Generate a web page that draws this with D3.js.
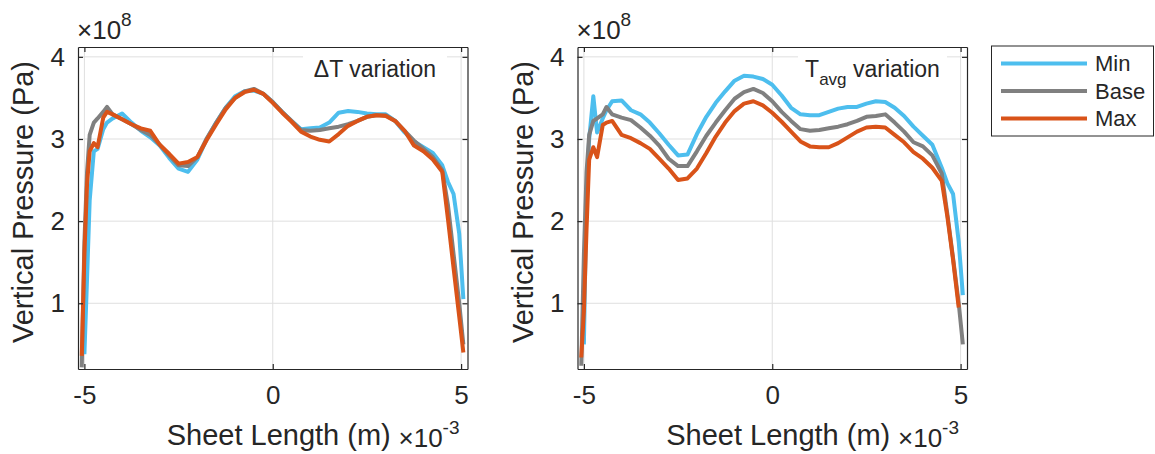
<!DOCTYPE html>
<html>
<head>
<meta charset="utf-8">
<script src="https://cdn.jsdelivr.net/npm/d3@7"></script>
<style>
  body { margin: 0; background: #fff; }
  text { font-family: "Liberation Sans", Arial, sans-serif; fill: #262626; }
</style>
</head>
<body>
<script>
// sheet position (x 1e-3 m), shared by all curves
const xs = [-5.07, -5.0, -4.93, -4.86, -4.75, -4.65, -4.5, -4.4, -4.25, -4.0, -3.75, -3.5, -3.25, -3.0,
  -2.75, -2.5, -2.25, -2.0, -1.75, -1.5, -1.25, -1.0, -0.75, -0.5, -0.25, 0, 0.25, 0.5, 0.75, 1.0,
  1.25, 1.5, 1.75, 2.0, 2.25, 2.5, 2.75, 3.0, 3.25, 3.5, 3.75, 4.0, 4.25, 4.5, 4.65, 4.8, 4.95, 5.06];

// vertical pressure (x 1e8 Pa) - delta T variation
const dtMin = [null, 0.38, 1.3, 2.25, 2.85, 2.88, 3.12, 3.2, 3.25, 3.31, 3.2, 3.1, 3.02, 2.92, 2.77, 2.64,
  2.6, 2.75, 3.0, 3.2, 3.38, 3.52, 3.58, 3.59, 3.55, 3.45, 3.33, 3.22, 3.12, 3.13, 3.14, 3.2, 3.32, 3.34,
  3.33, 3.31, 3.30, 3.30, 3.22, 3.08, 2.97, 2.9, 2.83, 2.68, 2.48, 2.33, 1.85, 1.05];
const dtBase = [0.22, 1.75, 2.6, 3.05, 3.2, 3.25, 3.33, 3.39, 3.30, 3.24, 3.18, 3.11, 3.05, 2.93, 2.80, 2.68,
  2.67, 2.78, 3.01, 3.2, 3.38, 3.5, 3.58, 3.61, 3.55, 3.45, 3.33, 3.22, 3.11, 3.10, 3.11, 3.13, 3.15, 3.18,
  3.22, 3.27, 3.29, 3.29, 3.22, 3.10, 2.98, 2.88, 2.78, 2.62, 2.2, 1.6, 1.0, 0.5];
const dtMax = [0.36, 1.6, 2.45, 2.85, 2.95, 2.90, 3.26, 3.33, 3.30, 3.24, 3.18, 3.13, 3.10, 2.93, 2.82, 2.70,
  2.72, 2.78, 2.99, 3.18, 3.36, 3.5, 3.57, 3.60, 3.55, 3.44, 3.32, 3.21, 3.09, 3.03, 2.99, 2.97, 3.06, 3.16,
  3.22, 3.27, 3.29, 3.28, 3.22, 3.10, 2.92, 2.85, 2.75, 2.60, 2.03, 1.43, 0.84, 0.40];

// vertical pressure (x 1e8 Pa) - T avg variation
const tavgMin = [null, 0.5, 2.35, 3.0, 3.52, 3.08, 3.25, 3.35, 3.46, 3.47, 3.35, 3.30, 3.20, 3.07, 2.93, 2.80,
  2.81, 3.06, 3.27, 3.44, 3.58, 3.71, 3.77, 3.76, 3.73, 3.66, 3.53, 3.38, 3.30, 3.29, 3.29, 3.33, 3.37, 3.39,
  3.39, 3.43, 3.46, 3.45, 3.38, 3.28, 3.15, 3.04, 2.93, 2.65, 2.46, 2.33, 1.75, 1.1];
const tavgBase = [0.24, 1.6, 2.6, 3.05, 3.22, 3.25, 3.30, 3.39, 3.30, 3.26, 3.23, 3.14, 3.04, 2.92, 2.76, 2.67,
  2.67, 2.85, 3.04, 3.2, 3.35, 3.49, 3.57, 3.61, 3.56, 3.46, 3.33, 3.22, 3.12, 3.10, 3.11, 3.13, 3.15, 3.18,
  3.22, 3.27, 3.28, 3.30, 3.20, 3.09, 2.96, 2.91, 2.80, 2.58, 2.08, 1.55, 1.0, 0.5];
const tavgMax = [0.34, 0.9, 1.9, 2.75, 2.9, 2.78, 3.17, 3.2, 3.22, 3.05, 3.01, 2.95, 2.88, 2.76, 2.64, 2.50,
  2.52, 2.64, 2.83, 3.03, 3.2, 3.34, 3.43, 3.46, 3.41, 3.32, 3.21, 3.09, 2.97, 2.91, 2.90, 2.90, 2.95, 3.02,
  3.09, 3.14, 3.15, 3.14, 3.05, 2.96, 2.84, 2.76, 2.65, 2.49, 2.05, 1.53, 0.95, null];

const seriesNames = ["Min", "Base", "Max"];
const colors = ["#4DBEEE", "#808080", "#D95319"];
const xTicks = [-5, 0, 5];
const yTicks = [1, 2, 3, 4];

const svg = d3.select("body").append("svg")
    .attr("width", 1155)
    .attr("height", 454);

const plotTop = 47, plotH = 322, plotW = 389.5;

const panels = [
    {left: 78, data: [dtMin, dtBase, dtMax], note: "dt", box: [303, 447]},
    {left: 577.5, data: [tavgMin, tavgBase, tavgMax], note: "tavg", box: [798, 947]}
];

panels.forEach((p, pi) => {
    const x = d3.scaleLinear().domain([-5.17, 5.17]).range([p.left, p.left + plotW]);
    const y = d3.scaleLinear().domain([0.2, 4.12]).range([plotTop + plotH, plotTop]);
    const g = svg.append("g");

    // grid
    g.selectAll("line.gx").data(xTicks).enter().append("line")
        .attr("x1", d => x(d)).attr("x2", d => x(d))
        .attr("y1", plotTop).attr("y2", plotTop + plotH)
        .attr("stroke", "#dfdfdf").attr("stroke-width", 1);
    g.selectAll("line.gy").data(yTicks).enter().append("line")
        .attr("x1", p.left).attr("x2", p.left + plotW)
        .attr("y1", d => y(d)).attr("y2", d => y(d))
        .attr("stroke", "#dfdfdf").attr("stroke-width", 1);

    // white text box behind the note
    g.append("rect")
        .attr("x", p.box[0]).attr("y", plotTop + 2)
        .attr("width", p.box[1] - p.box[0]).attr("height", 40)
        .attr("fill", "#fff");

    const note = g.append("text")
        .attr("x", (p.box[0] + p.box[1]) / 2)
        .attr("y", 77)
        .attr("text-anchor", "middle")
        .style("font-size", "23px");
    if (p.note === "dt") {
        note.text("\u0394T variation");
    } else {
        note.append("tspan").text("T");
        note.append("tspan").attr("dy", 8).style("font-size", "17px").text("avg");
        note.append("tspan").attr("dy", -8).text(" variation");
    }

    // curves
    const clipId = "clip" + pi;
    svg.append("clipPath").attr("id", clipId).append("rect")
        .attr("x", p.left).attr("y", plotTop).attr("width", plotW).attr("height", plotH);

    const line = d3.line()
        .defined(d => d[1] !== null)
        .x(d => x(d[0]))
        .y(d => y(d[1]));

    p.data.forEach((vals, i) => {
        g.append("path")
            .datum(xs.map((v, j) => [v, vals[j]]))
            .attr("clip-path", "url(#" + clipId + ")")
            .attr("fill", "none")
            .attr("stroke", colors[i])
            .attr("stroke-width", 4)
            .attr("stroke-linejoin", "round")
            .attr("d", line);
    });

    // axes box with inward ticks
    const axBottom = d3.axisBottom(x).tickValues(xTicks).tickSizeInner(-5).tickSizeOuter(0).tickPadding(17)
        .tickFormat(d => String(d));
    const axTop = d3.axisTop(x).tickValues(xTicks).tickSizeInner(-5).tickSizeOuter(0).tickFormat("");
    const axLeft = d3.axisLeft(y).tickValues(yTicks).tickSizeInner(-5).tickSizeOuter(0).tickPadding(13)
        .tickFormat(d => String(d));
    const axRight = d3.axisRight(y).tickValues(yTicks).tickSizeInner(-5).tickSizeOuter(0).tickFormat("");

    [
        [axBottom, `translate(0,${plotTop + plotH})`],
        [axTop, `translate(0,${plotTop})`],
        [axLeft, `translate(${p.left},0)`],
        [axRight, `translate(${p.left + plotW},0)`]
    ].forEach(([ax, tr]) => {
        const a = g.append("g").attr("transform", tr).call(ax);
        a.selectAll("path, line").attr("stroke", "#262626").attr("stroke-width", 1.2);
        a.selectAll("text").style("font-size", "26px").attr("fill", "#262626")
            .style("font-family", '"Liberation Sans", Arial, sans-serif');
    });

    // axis labels
    g.append("text")
        .attr("x", p.left + plotW / 2 + 6)
        .attr("y", 445)
        .attr("text-anchor", "middle")
        .style("font-size", "29px")
        .text("Sheet Length (m)");
    g.append("text")
        .attr("transform", `translate(${p.left - 45},${plotTop + plotH / 2 - 6}) rotate(-90)`)
        .attr("text-anchor", "middle")
        .style("font-size", "29px")
        .text("Vertical Pressure (Pa)");

    // exponent labels
    const ey = g.append("text").attr("x", p.left - 1).attr("y", 39).style("font-size", "26px");
    ey.append("tspan").text("\u00d710");
    ey.append("tspan").attr("dy", -13).style("font-size", "19px").text("8");

    const ex = g.append("text").attr("x", p.left + plotW - 69).attr("y", 447).style("font-size", "26px");
    ex.append("tspan").text("\u00d710");
    ex.append("tspan").attr("dy", -13).style("font-size", "19px").text("-3");
});

// legend
const lg = svg.append("g");
lg.append("rect")
    .attr("x", 991.5).attr("y", 46)
    .attr("width", 162).attr("height", 90)
    .attr("fill", "#fff").attr("stroke", "#262626").attr("stroke-width", 1);

const rowY = d3.scalePoint().domain(seriesNames).range([63.5, 118.5]);
seriesNames.forEach((s, i) => {
    lg.append("line")
        .attr("x1", 1001).attr("x2", 1087)
        .attr("y1", rowY(s)).attr("y2", rowY(s))
        .attr("stroke", colors[i]).attr("stroke-width", 4);
    lg.append("text")
        .attr("x", 1095).attr("y", rowY(s))
        .attr("dy", "0.36em")
        .style("font-size", "22px")
        .text(s);
});
</script>
</body>
</html>
